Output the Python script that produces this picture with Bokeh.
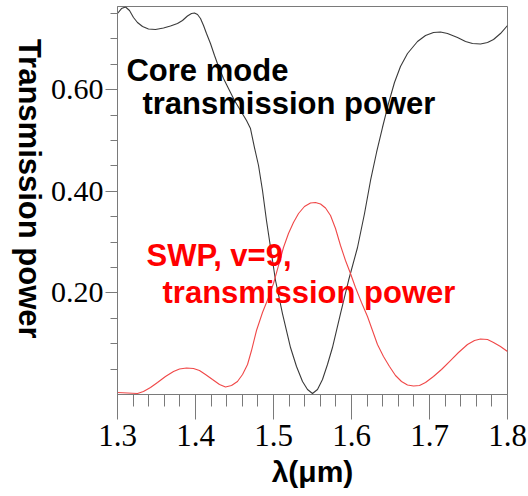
import numpy as np
from bokeh.plotting import figure
from bokeh.layouts import row
from bokeh.models import FixedTicker, Label, Range1d
from bokeh.embed import file_html
from bokeh.resources import INLINE

# Core mode transmission power versus wavelength (um)
core_wl = [1.3000, 1.3051, 1.3103, 1.3154, 1.3205, 1.3256, 1.3321, 1.3397, 1.3487,
           1.3590, 1.3679, 1.3769, 1.3833, 1.3897, 1.3949, 1.3987, 1.4026, 1.4064,
           1.4103, 1.4141, 1.4192, 1.4244, 1.4295, 1.4359, 1.4423, 1.4500, 1.4577,
           1.4654, 1.4705, 1.4756, 1.4808, 1.4859, 1.4910, 1.4962, 1.5026, 1.5115,
           1.5218, 1.5295, 1.5372, 1.5436, 1.5500, 1.5564, 1.5628, 1.5692, 1.5756,
           1.5859, 1.5962, 1.6077, 1.6167, 1.6244, 1.6321, 1.6397, 1.6474, 1.6551,
           1.6628, 1.6718, 1.6846, 1.6949, 1.7051, 1.7141, 1.7231, 1.7359, 1.7462,
           1.7551, 1.7654, 1.7744, 1.7821, 1.7910, 1.8000]
core_power = [0.7500, 0.7598, 0.7628, 0.7559, 0.7421, 0.7323, 0.7244, 0.7195, 0.7185,
              0.7215, 0.7254, 0.7303, 0.7362, 0.7451, 0.7500, 0.7510, 0.7480, 0.7402,
              0.7264, 0.7106, 0.6909, 0.6673, 0.6457, 0.6220, 0.6024, 0.5787, 0.5591,
              0.5394, 0.5236, 0.4862, 0.4508, 0.4016, 0.3425, 0.2894, 0.2244, 0.1594,
              0.0925, 0.0551, 0.0256, 0.0098, 0.0020, 0.0098, 0.0295, 0.0591, 0.0925,
              0.1594, 0.2244, 0.2894, 0.3563, 0.4213, 0.4764, 0.5256, 0.5728, 0.6142,
              0.6457, 0.6713, 0.6949, 0.7067, 0.7126, 0.7136, 0.7106, 0.7028, 0.6949,
              0.6909, 0.6900, 0.6929, 0.6988, 0.7106, 0.7264]

# Surface wave power (SWP, v=9) transmission
swp_wl = [1.3000, 1.3128, 1.3256, 1.3333, 1.3423, 1.3513, 1.3615, 1.3718, 1.3795,
          1.3885, 1.3974, 1.4051, 1.4128, 1.4218, 1.4308, 1.4385, 1.4462, 1.4538,
          1.4603, 1.4667, 1.4718, 1.4782, 1.4859, 1.4936, 1.5000, 1.5064, 1.5128,
          1.5192, 1.5256, 1.5321, 1.5397, 1.5474, 1.5538, 1.5603, 1.5667, 1.5731,
          1.5795, 1.5859, 1.5923, 1.5987, 1.6051, 1.6128, 1.6205, 1.6269, 1.6333,
          1.6410, 1.6487, 1.6564, 1.6641, 1.6718, 1.6795, 1.6872, 1.6949, 1.7051,
          1.7154, 1.7269, 1.7372, 1.7487, 1.7577, 1.7654, 1.7744, 1.7821, 1.7910,
          1.8000]
swp_power = [0.0039, 0.0030, 0.0020, 0.0059, 0.0138, 0.0236, 0.0354, 0.0453, 0.0502,
             0.0522, 0.0512, 0.0472, 0.0394, 0.0295, 0.0197, 0.0148, 0.0177, 0.0256,
             0.0394, 0.0591, 0.0866, 0.1260, 0.1614, 0.1909, 0.2185, 0.2539, 0.2894,
             0.3169, 0.3386, 0.3563, 0.3701, 0.3770, 0.3780, 0.3750, 0.3671, 0.3524,
             0.3268, 0.2933, 0.2638, 0.2382, 0.2106, 0.1811, 0.1535, 0.1260, 0.0984,
             0.0748, 0.0551, 0.0374, 0.0256, 0.0187, 0.0167, 0.0177, 0.0236, 0.0354,
             0.0492, 0.0669, 0.0827, 0.0984, 0.1063, 0.1093, 0.1083, 0.1024, 0.0945,
             0.0846]

x_ticks = [1.3, 1.4, 1.5, 1.6, 1.7, 1.8]
x_tick_labels = ["1.3", "1.4", "1.5", "1.6", "1.7", "1.8"]
y_ticks = [0.2, 0.4, 0.6]
y_tick_labels = ["0.20", "0.40", "0.60"]
y_title = "Transmission power"

AXIS_GREY = "#7a7a7a"
TITLE_W = 47
H = 496

# narrow strip without axes that carries the y title, read top to bottom
strip = figure(width=TITLE_W, height=H, output_backend="svg", toolbar_location=None,
               x_range=Range1d(0, TITLE_W), y_range=Range1d(0, H),
               x_axis_location=None, y_axis_location=None, min_border=0)
strip.grid.visible = False
strip.outline_line_color = None
strip.add_layout(Label(x=29, y=H - 233, text=y_title, angle=-np.pi / 2,
                       text_align="center", text_baseline="middle",
                       text_font="Liberation Sans", text_font_style="bold",
                       text_font_size="31px", text_color="black"))

p = figure(width=528 - TITLE_W, height=H, output_backend="svg",
           toolbar_location=None,
           x_range=Range1d(1.3, 1.8), y_range=Range1d(0.0, 0.7638),
           min_border_left=117 - TITLE_W, min_border_right=21, min_border_top=6,
           min_border_bottom=102)
p.grid.visible = False
p.outline_line_color = AXIS_GREY
p.background_fill_color = "white"
p.border_fill_color = "white"

# x axis: majors every 0.1, minors every 0.02, ticks pointing down
xa = p.xaxis[0]
xa.ticker = FixedTicker(ticks=x_ticks,
                        minor_ticks=list(np.round(np.arange(1.30, 1.8001, 0.02), 2)))
xa.major_label_overrides = {t: s for t, s in zip(x_ticks, x_tick_labels)}
xa.major_tick_in = 0
xa.major_tick_out = 25
xa.minor_tick_in = 0
xa.minor_tick_out = 12
xa.major_label_standoff = 5
xa.axis_line_color = AXIS_GREY
xa.major_tick_line_color = AXIS_GREY
xa.minor_tick_line_color = AXIS_GREY
xa.major_label_text_font = "Liberation Serif"
xa.major_label_text_font_size = "31px"
xa.major_label_text_color = "black"
xa.axis_label = "λ(μm)"
xa.axis_label_standoff = 6
xa.axis_label_text_font = "Liberation Sans"
xa.axis_label_text_font_style = "bold"
xa.axis_label_text_font_size = "30px"
xa.axis_label_text_color = "black"

# y axis: labelled majors at 0.2 steps, minors every 0.05
ya = p.yaxis[0]
ya.ticker = FixedTicker(ticks=y_ticks,
                        minor_ticks=list(np.round(np.arange(0.05, 0.7601, 0.05), 2)))
ya.major_label_overrides = {t: s for t, s in zip(y_ticks, y_tick_labels)}
ya.major_tick_in = 0
ya.major_tick_out = 12
ya.minor_tick_in = 0
ya.minor_tick_out = 7
ya.major_label_standoff = 2
ya.axis_line_color = AXIS_GREY
ya.major_tick_line_color = AXIS_GREY
ya.minor_tick_line_color = AXIS_GREY
ya.major_label_text_font = "Liberation Serif"
ya.major_label_text_font_size = "30px"
ya.major_label_text_color = "black"

p.line(core_wl, core_power, line_color="#3a3a3a", line_width=1.1)
p.line(swp_wl, swp_power, line_color="#f04848", line_width=1.1)

def add_text(x, y, txt, color):
    p.add_layout(Label(x=x, y=y, text=txt, text_color=color,
                       text_font="Liberation Sans", text_font_style="bold",
                       text_font_size="31px", text_align="left",
                       text_baseline="alphabetic"))

add_text(1.3115, 0.6378, "Core mode", "black")
add_text(1.3320, 0.5728, "transmission power", "black")
add_text(1.3372, 0.2736, "SWP, v=9,", "#ff0000")
add_text(1.3577, 0.2008, "transmission power", "#ff0000")

layout = row(strip, p, spacing=0)
open("out.html", "w").write(file_html(layout, INLINE))
